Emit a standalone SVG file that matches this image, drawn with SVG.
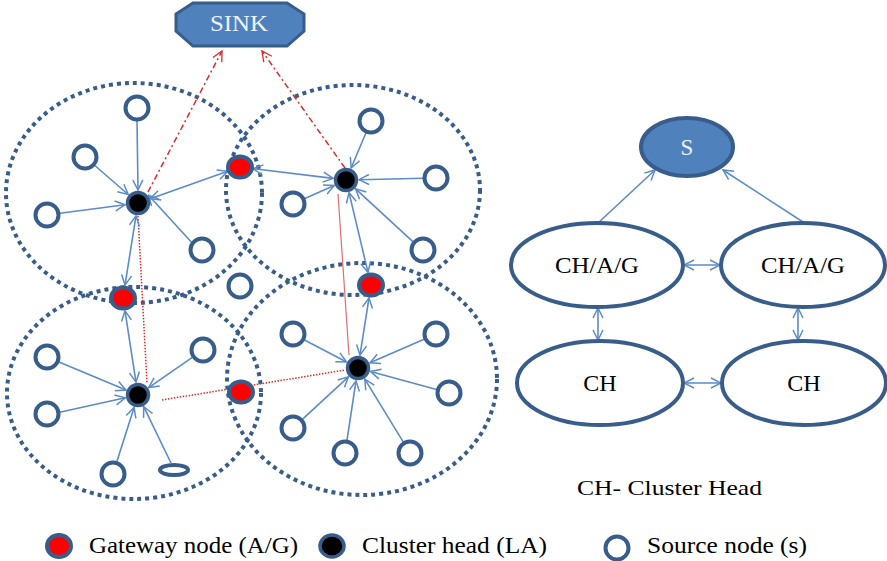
<svg xmlns="http://www.w3.org/2000/svg" width="887" height="561" viewBox="0 0 887 561" font-family="'Liberation Serif', 'Times New Roman', serif">
<defs>
<marker id="ab" viewBox="0 0 12 12" refX="11" refY="6" markerWidth="12" markerHeight="12" orient="auto-start-reverse" markerUnits="userSpaceOnUse"><path d="M1,1 L11,6 L1,11" fill="none" stroke="#5b8bc9" stroke-width="1.5"/></marker>
<marker id="ar" viewBox="0 0 12 12" refX="11" refY="6" markerWidth="12" markerHeight="12" orient="auto" markerUnits="userSpaceOnUse"><path d="M1,1 L11,6 L1,11" fill="none" stroke="#d92b2b" stroke-width="1.3"/></marker>
</defs>
<style>
.cl{fill:none;stroke:#385d8a;stroke-width:4;stroke-dasharray:4 4}
.src{fill:#fff;stroke:#385d8a;stroke-width:4}
.ch{fill:#000;stroke:#385d8a;stroke-width:3.5}
.gw{fill:#ff0000;stroke:#385d8a;stroke-width:4}
.bl{stroke:#5b8bc9;stroke-width:1.6;fill:none}
.one{marker-end:url(#ab)}
.two{marker-start:url(#ab);marker-end:url(#ab)}
.rd{stroke:#d92b2b;stroke-width:1.5;fill:none}
.en{fill:#fff;stroke:#385d8a;stroke-width:4}
.ef{fill:#4f81bd;stroke:#385d8a;stroke-width:4}
.tx{fill:#000}
.wt{fill:#eef2fa}
</style>
<rect width="887" height="561" fill="#fff"/>

<g id="clusters">
<ellipse class="cl" cx="134" cy="193" rx="128" ry="110"/>
<ellipse class="cl" cx="353" cy="190" rx="127" ry="105"/>
<ellipse class="cl" cx="134" cy="393" rx="127" ry="106"/>
<ellipse class="cl" cx="362" cy="379" rx="135" ry="116"/>
</g>

<g id="connectors">
<line class="rd" x1="148" y1="192" x2="222" y2="51" stroke-dasharray="6 3 2 3" marker-end="url(#ar)"/>
<line class="rd" x1="345" y1="168" x2="262" y2="51" stroke-dasharray="6 3 2 3" marker-end="url(#ar)"/>
<line class="rd" x1="138" y1="216" x2="147" y2="383" stroke-dasharray="1.5 1.5"/>
<line class="rd" x1="162" y1="400" x2="345" y2="370" stroke-dasharray="1.5 1.5"/>
<line x1="338" y1="194" x2="349" y2="355" stroke="#e07070" stroke-width="1.2"/>
<line class="bl one" x1="137" y1="121" x2="138" y2="190"/>
<line class="bl one" x1="94.8" y1="165.5" x2="128.2" y2="194.5"/>
<line class="bl one" x1="59.9" y1="213.3" x2="125.1" y2="204.7"/>
<line class="bl one" x1="191.5" y1="242.3" x2="148.5" y2="195.3"/>
<line class="bl two" x1="150.3" y1="198.7" x2="227.7" y2="171.3"/>
<line class="bl two" x1="136" y1="215.8" x2="125" y2="285.2"/>
<line class="bl one" x1="365.9" y1="133" x2="351.1" y2="168"/>
<line class="bl one" x1="423" y1="178.3" x2="359" y2="179.7"/>
<line class="bl one" x1="304.8" y1="198.6" x2="334.2" y2="185.4"/>
<line class="bl one" x1="413.4" y1="242.2" x2="355.6" y2="188.8"/>
<line class="bl two" x1="252.9" y1="168.6" x2="333.1" y2="178.4"/>
<line class="bl two" x1="349" y1="192.6" x2="368" y2="272.4"/>
<line class="bl two" x1="125" y1="310.8" x2="136" y2="382.2"/>
<line class="bl one" x1="59" y1="362" x2="126" y2="390"/>
<line class="bl one" x1="192.3" y1="357.4" x2="148.7" y2="387.6"/>
<line class="bl one" x1="59.7" y1="412.2" x2="125.3" y2="397.8"/>
<line class="bl one" x1="116.9" y1="461.6" x2="134.1" y2="407.4"/>
<line class="bl one" x1="171" y1="463" x2="143.7" y2="406.7"/>
<line class="bl two" x1="369" y1="297.8" x2="360" y2="355.2"/>
<line class="bl one" x1="304.5" y1="340" x2="346.5" y2="362"/>
<line class="bl one" x1="424.1" y1="339.2" x2="370" y2="362.8"/>
<line class="bl one" x1="436.5" y1="389.6" x2="370.5" y2="371.4"/>
<line class="bl one" x1="302.6" y1="419.2" x2="348.4" y2="376.8"/>
<line class="bl one" x1="347" y1="440.2" x2="356" y2="380.8"/>
<line class="bl one" x1="403.2" y1="441.9" x2="364.8" y2="379.1"/>
<line class="bl one" x1="598" y1="223" x2="655" y2="170"/>
<line class="bl one" x1="803" y1="222" x2="723" y2="170"/>
<line class="bl two" x1="684" y1="265" x2="720" y2="265"/>
<line class="bl two" x1="598" y1="308" x2="598" y2="340"/>
<line class="bl two" x1="798" y1="308" x2="798" y2="340"/>
<line class="bl two" x1="684" y1="383" x2="721" y2="383"/>
</g>

<g id="sink">
<polygon points="176,14 193,3 287,3 304,14 304,31 287,46 193,46 176,31" fill="#4f81bd" stroke="#385d8a" stroke-width="3"/>
<text class="wt" x="239" y="31" font-size="23" text-anchor="middle" textLength="58" lengthAdjust="spacingAndGlyphs">SINK</text>
</g>

<g id="sources">
<circle class="src" cx="137" cy="108" r="11.5"/>
<circle class="src" cx="85" cy="157" r="11.5"/>
<circle class="src" cx="47" cy="215" r="11.5"/>
<circle class="src" cx="202" cy="250" r="11.5"/>
<circle class="src" cx="371" cy="121" r="11.5"/>
<circle class="src" cx="436" cy="178" r="11.5"/>
<circle class="src" cx="293" cy="204" r="11.5"/>
<circle class="src" cx="423" cy="250" r="11.5"/>
<circle class="src" cx="240" cy="286" r="11.5"/>
<circle class="src" cx="47" cy="357" r="11.5"/>
<circle class="src" cx="203" cy="350" r="11.5"/>
<circle class="src" cx="47" cy="414" r="11.5"/>
<circle class="src" cx="113" cy="474" r="11.5"/>
<ellipse class="src" cx="174" cy="470" rx="14" ry="5" stroke-width="3.5"/>
<circle class="src" cx="293" cy="334" r="11.5"/>
<circle class="src" cx="436" cy="334" r="11.5"/>
<circle class="src" cx="449" cy="393" r="11.5"/>
<circle class="src" cx="293" cy="428" r="11.5"/>
<circle class="src" cx="345" cy="453" r="11.5"/>
<circle class="src" cx="410" cy="453" r="11.5"/>
</g>

<g id="gateways">
<ellipse class="gw" cx="240" cy="167" rx="12" ry="10.5"/>
<ellipse class="gw" cx="123" cy="298" rx="12" ry="10.5"/>
<ellipse class="gw" cx="371" cy="285" rx="12" ry="10.5"/>
<ellipse class="gw" cx="241" cy="392" rx="12" ry="10.5"/>
</g>

<g id="clusterheads">
<circle class="ch" cx="138" cy="203" r="10.5"/>
<circle class="ch" cx="346" cy="180" r="10.5"/>
<circle class="ch" cx="138" cy="395" r="10.5"/>
<circle class="ch" cx="358" cy="368" r="10.5"/>
</g>

<g id="node-S">
<ellipse class="ef" cx="687" cy="147" rx="46" ry="29"/>
<text class="wt" x="687" y="155" font-size="23" text-anchor="middle">S</text>
</g>
<g id="node-CHAG-left">
<ellipse class="en" cx="597" cy="265" rx="86" ry="42"/>
<text class="tx" x="597" y="273" font-size="24" text-anchor="middle" textLength="84" lengthAdjust="spacingAndGlyphs">CH/A/G</text>
</g>
<g id="node-CHAG-right">
<ellipse class="en" cx="803" cy="265" rx="82" ry="42"/>
<text class="tx" x="803" y="273" font-size="24" text-anchor="middle" textLength="84" lengthAdjust="spacingAndGlyphs">CH/A/G</text>
</g>
<g id="node-CH-left">
<ellipse class="en" cx="600" cy="383" rx="83" ry="42"/>
<text class="tx" x="600" y="391" font-size="24" text-anchor="middle">CH</text>
</g>
<g id="node-CH-right">
<ellipse class="en" cx="804" cy="383" rx="82" ry="42"/>
<text class="tx" x="804" y="391" font-size="24" text-anchor="middle">CH</text>
</g>

<g id="caption">
<text class="tx" x="577" y="495" font-size="22" textLength="185" lengthAdjust="spacingAndGlyphs">CH- Cluster  Head</text>
</g>

<g id="legend">
<ellipse class="gw" cx="59" cy="546" rx="12" ry="11" stroke-width="5"/>
<text class="tx" x="89" y="553" font-size="23" textLength="209" lengthAdjust="spacingAndGlyphs">Gateway node (A/G)</text>
<ellipse class="ch" cx="332" cy="546" rx="12" ry="11" stroke-width="5"/>
<text class="tx" x="362" y="553" font-size="23" textLength="185" lengthAdjust="spacingAndGlyphs">Cluster head (LA)</text>
<circle class="src" cx="617" cy="548" r="11.5"/>
<text class="tx" x="647" y="553" font-size="23" textLength="160" lengthAdjust="spacingAndGlyphs">Source node (s)</text>
</g>
</svg>
